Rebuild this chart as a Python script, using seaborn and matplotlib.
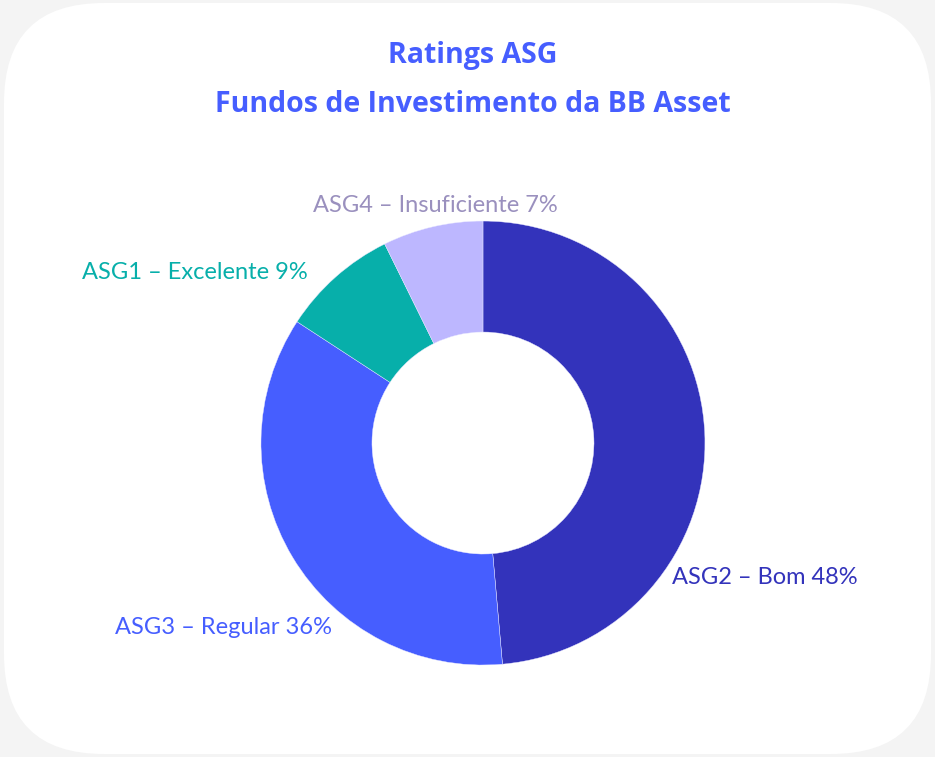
import seaborn as sns
import numpy as np
import pandas as pd
import matplotlib.pyplot as plt
from matplotlib.patches import FancyBboxPatch

# dados (fatias medidas na figura; rótulos como aparecem)
categorias = ['ASG2 – Bom', 'ASG3 – Regular', 'ASG1 – Excelente', 'ASG4 – Insuficiente']
fatias = [48.6, 35.6, 8.5, 7.3]
pct_rotulo = ['48%', '36%', '9%', '7%']
cores = ['#3333BB', '#465EFF', '#07AFAA', '#BDB7FF']
cores_rotulo = ['#3333BB', '#465EFF', '#07AFAA', '#9A90BE']

df = pd.DataFrame({'categoria': categorias, 'valor': fatias})

sns.set_theme(style='white')
plt.rcParams['font.family'] = ['Lato', 'DejaVu Sans']

fig = plt.figure(figsize=(9.35, 7.57), dpi=100)
fig.patch.set_facecolor('#F4F4F4')

# cartão branco com cantos arredondados
card = FancyBboxPatch((0.04, 0.03), 9.27, 7.51,
                      boxstyle='round,pad=0,rounding_size=1.0',
                      transform=fig.dpi_scale_trans,
                      facecolor='white', edgecolor='none', zorder=-5)
fig.patches.append(card)

titulo_fonte = ['Open Sans', 'DejaVu Sans']
fig.text(473 / 935, 1 - 55 / 757, 'Ratings ASG', ha='center', va='center',
         fontsize=20.5, fontweight='bold', color='#465EFF', family=titulo_fonte)
fig.text(473 / 935, 1 - 105 / 757, 'Fundos de Investimento da BB Asset', ha='center', va='center',
         fontsize=20.5, fontweight='bold', color='#465EFF', family=titulo_fonte)

ax = fig.add_axes([0.2791, 0.1215, 0.4749, 0.5865], zorder=1)
ax.set_facecolor('none')
palette = sns.color_palette(cores)
ax.pie(df['valor'], colors=palette, startangle=90, counterclock=False,
       radius=1, wedgeprops=dict(width=0.5, linewidth=0.3, edgecolor='#E8E8FF'))
ax.set_xlim(-1, 1)
ax.set_ylim(-1, 1)
ax.set_aspect('equal')
ax.axis('off')

# posições dos rótulos (coordenadas de dados)
rot_pos = [(0.851, -0.604, 'left'), (-0.680, -0.833, 'right'),
           (-0.788, 0.766, 'right'), (-0.216, 1.068, 'center')]
for (x, y, ha), cat, p, c in zip(rot_pos, categorias, pct_rotulo, cores_rotulo):
    ax.text(x, y, f'{cat} {p}', ha=ha, va='center', fontsize=17, color=c, clip_on=False)

fig.savefig('out.png', dpi=100, facecolor=fig.get_facecolor())
